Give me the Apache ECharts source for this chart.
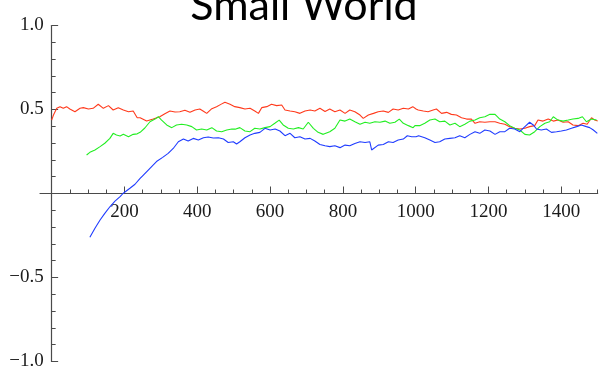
<!DOCTYPE html>
<html>
<head>
<meta charset="utf-8">
<script src="https://cdn.jsdelivr.net/npm/echarts@6/dist/echarts.min.js"></script>
<style>
  html, body { margin: 0; padding: 0; background: #ffffff; }
  #chart { width: 608px; height: 377px; }
</style>
</head>
<body>
<div id="chart"></div>
<script>
// Running correlation estimates, three walkers on a small-world graph
const redPoints = [
  [0,.437],[5,.467],[14,.507],[23,.517],[32,.507],[41,.517],[50,.503],[64,.487],[78,.507],[87,.511],
  [101,.503],[114,.507],[128,.531],[142,.507],[156,.523],[169,.497],[183,.511],[197,.497],[211,.487],[224,.491],
  [235,.451],[243,.451],[247,.443],[261,.431],[279,.443],[297,.457],[311,.475],[325,.491],[339,.485],[352,.487],
  [366,.495],[380,.483],[394,.497],[407,.503],[417,.49],[426,.477],[440,.505],[453,.517],[466,.532],[476,.543],
  [490,.531],[503,.517],[517,.511],[531,.503],[545,.507],[558,.491],[568,.477],[577,.511],[591,.517],[604,.531],
  [618,.523],[632,.527],[641,.497],[655,.491],[668,.487],[682,.477],[696,.491],[710,.497],[723,.491],[737,.507],
  [751,.488],[764,.503],[778,.487],[792,.497],[806,.477],[819,.497],[833,.487],[847,.467],[856,.447],[870,.467],
  [884,.477],[897,.487],[911,.491],[925,.483],[938,.503],[952,.497],[966,.507],[980,.503],[992,.517],[1001,.503],
  [1007,.497],[1021,.491],[1034,.487],[1048,.497],[1057,.503],[1071,.477],[1085,.483],[1098,.471],[1112,.467],[1126,.451],
  [1140,.443],[1153,.443],[1163,.418],[1176,.427],[1190,.424],[1204,.427],[1218,.427],[1231,.418],[1245,.412],[1258,.398],
  [1272,.388],[1286,.384],[1300,.388],[1313,.398],[1327,.404],[1336,.437],[1350,.431],[1364,.443],[1378,.431],[1391,.437],
  [1405,.424],[1419,.427],[1432,.408],[1446,.404],[1460,.418],[1471,.412],[1483,.451],[1492,.437],[1500,.431]
];
const greenPoints = [
  [96,.229],[105,.245],[119,.259],[133,.279],[146,.299],[160,.328],[169,.358],[178,.348],[188,.342],[197,.352],
  [211,.338],[224,.352],[235,.355],[243,.364],[256,.39],[270,.427],[284,.443],[293,.457],[302,.437],[316,.408],
  [330,.392],[343,.408],[357,.412],[371,.408],[385,.398],[398,.378],[412,.384],[426,.378],[440,.392],[453,.372],
  [467,.368],[481,.378],[495,.384],[504,.383],[517,.392],[531,.372],[545,.368],[558,.388],[572,.384],[586,.392],
  [600,.398],[613,.418],[625,.437],[636,.408],[650,.388],[664,.384],[678,.392],[691,.384],[705,.424],[719,.388],
  [732,.364],[746,.352],[751,.344],[764,.368],[778,.388],[792,.437],[806,.431],[819,.443],[833,.427],[847,.412],
  [861,.424],[874,.418],[888,.427],[902,.424],[916,.431],[929,.418],[943,.424],[955,.443],[966,.418],[980,.404],
  [993,.392],[998,.404],[1011,.404],[1025,.418],[1039,.437],[1053,.443],[1066,.427],[1080,.431],[1094,.408],[1108,.418],
  [1121,.398],[1135,.412],[1149,.431],[1163,.437],[1176,.451],[1190,.457],[1204,.471],[1218,.471],[1231,.443],[1245,.427],
  [1258,.404],[1272,.388],[1286,.378],[1300,.352],[1313,.348],[1327,.368],[1341,.398],[1355,.418],[1368,.427],[1378,.457],
  [1391,.437],[1405,.431],[1419,.437],[1432,.443],[1446,.447],[1458,.457],[1469,.427],[1483,.443],[1497,.437]
];
const bluePoints = [
  [105,-.261],[119,-.207],[133,-.158],[146,-.118],[160,-.079],[174,-.045],[188,-.019],[196,0],[215,.031],[229,.055],
  [243,.09],[252,.11],[270,.15],[288,.19],[305,.215],[320,.239],[334,.268],[348,.308],[353,.314],[362,.324],
  [375,.312],[389,.328],[403,.318],[417,.332],[430,.336],[444,.33],[458,.332],[472,.324],[485,.304],[499,.308],
  [508,.295],[517,.308],[531,.332],[545,.348],[558,.358],[572,.364],[586,.388],[600,.378],[614,.384],[627,.372],
  [641,.344],[655,.358],[668,.332],[682,.338],[696,.324],[710,.328],[723,.312],[737,.292],[751,.284],[764,.279],
  [778,.284],[792,.273],[806,.288],[819,.284],[833,.298],[847,.308],[861,.304],[874,.308],[879,.259],[884,.265],
  [897,.288],[911,.292],[925,.308],[938,.304],[952,.318],[966,.324],[977,.344],[989,.338],[1001,.338],[1008,.344],
  [1025,.332],[1039,.318],[1053,.304],[1066,.308],[1080,.324],[1094,.328],[1108,.332],[1121,.344],[1135,.332],[1149,.352],
  [1163,.368],[1176,.358],[1190,.378],[1204,.372],[1218,.352],[1231,.368],[1245,.368],[1258,.388],[1272,.384],[1286,.368],
  [1300,.398],[1313,.424],[1323,.408],[1332,.384],[1345,.378],[1359,.384],[1373,.364],[1387,.368],[1400,.372],[1414,.378],
  [1428,.388],[1442,.398],[1455,.408],[1469,.398],[1478,.392],[1488,.378],[1499,.358]
];

// Axis tick positions
const xMajorTicks = [200, 400, 600, 800, 1000, 1200, 1400];
const xMinorTicks = [50, 100, 150, 250, 300, 350, 450, 500, 550, 650, 700, 750, 850, 900, 950,
                     1050, 1100, 1150, 1250, 1300, 1350, 1450, 1500];
const xLabels = [200, 400, 600, 800, 1000, 1200, 1400];

const titleText = 'Small World';

const X_MIN = -32, X_MAX = 1500;
const Y_MIN = -1, Y_MAX = 1;

const axisColor = '#4a4a4a';
const tickFont = { fontFamily: 'Liberation Serif', fontSize: 19, color: '#1a1a1a' };

// Plot frame in pixels; the x axis crosses at y = 0, the y axis at x = 0
const frame = { left: 40, right: 10.3, top: 25.5, bottom: 15.5 };
const zeroRowHeight = 168;   // distance from the top edge down to y = 0
const zeroColLeft = 51.65;   // x = 0

const chart = echarts.init(document.getElementById('chart'), null, { renderer: 'canvas' });

const seriesLine = (data, color) => ({
  type: 'line',
  data: data,
  showSymbol: false,
  symbol: 'none',
  lineStyle: { color: color, width: 1.1 },
  xAxisIndex: 0,
  yAxisIndex: 0,
  silent: true,
  z: 3
});

const hidden = { show: false };

chart.setOption({
  animation: false,
  backgroundColor: '#ffffff',
  title: {
    text: titleText,
    left: 'center',
    top: -20,
    textStyle: { fontFamily: 'Lato', fontWeight: 'normal', fontSize: 43, color: '#000000' }
  },
  grid: [
    // data area
    { left: frame.left, right: frame.right, top: frame.top, bottom: frame.bottom, outerBoundsMode: 'none', containLabel: false },
    // carries the horizontal axis along y = 0
    { left: frame.left, right: frame.right, top: frame.top, height: zeroRowHeight, outerBoundsMode: 'none', containLabel: false },
    // carries the vertical axis along x = 0
    { left: zeroColLeft, right: frame.right, top: frame.top, bottom: frame.bottom, outerBoundsMode: 'none', containLabel: false }
  ],
  xAxis: [
    { gridIndex: 0, type: 'value', min: X_MIN, max: X_MAX, ...hidden },
    {
      gridIndex: 1,
      type: 'value',
      min: X_MIN,
      max: X_MAX,
      position: 'bottom',
      axisLine: { show: true, onZero: false, lineStyle: { color: axisColor, width: 1.2 } },
      axisTick: { show: true, inside: true, length: 7, customValues: xMajorTicks, lineStyle: { color: axisColor, width: 1 } },
      axisLabel: { show: true, customValues: xLabels, margin: 9, formatter: v => String(v), ...tickFont },
      splitLine: { show: false }
    },
    {
      gridIndex: 1,
      type: 'value',
      min: X_MIN,
      max: X_MAX,
      position: 'bottom',
      offset: 0,
      axisLine: { show: false, onZero: false },
      axisTick: { show: true, inside: true, length: 4, customValues: xMinorTicks, lineStyle: { color: axisColor, width: 1 } },
      axisLabel: { show: false },
      splitLine: { show: false }
    },
    { gridIndex: 2, type: 'value', min: 0, max: 1, ...hidden }
  ],
  yAxis: [
    { gridIndex: 0, type: 'value', min: Y_MIN, max: Y_MAX, ...hidden },
    { gridIndex: 1, type: 'value', min: 0, max: 1, ...hidden },
    {
      gridIndex: 2,
      type: 'value',
      min: Y_MIN,
      max: Y_MAX,
      interval: 0.5,
      position: 'left',
      axisLine: { show: true, onZero: false, lineStyle: { color: axisColor, width: 1.2 } },
      axisTick: { show: true, inside: true, length: 6.5, lineStyle: { color: axisColor, width: 1 } },
      minorTick: { show: true, splitNumber: 5, length: 4, lineStyle: { color: axisColor, width: 1 } },
      axisLabel: {
        margin: 8,
        ...tickFont,
        formatter: v => (Math.abs(v) < 1e-9 ? '' : (v < 0 ? '\u2212' : '') + Math.abs(v).toFixed(1))
      },
      splitLine: { show: false }
    }
  ],
  series: [
    seriesLine(redPoints, '#ff3a1c'),
    seriesLine(greenPoints, '#22ee22'),
    seriesLine(bluePoints, '#1f3cff')
  ]
});
</script>
</body>
</html>
